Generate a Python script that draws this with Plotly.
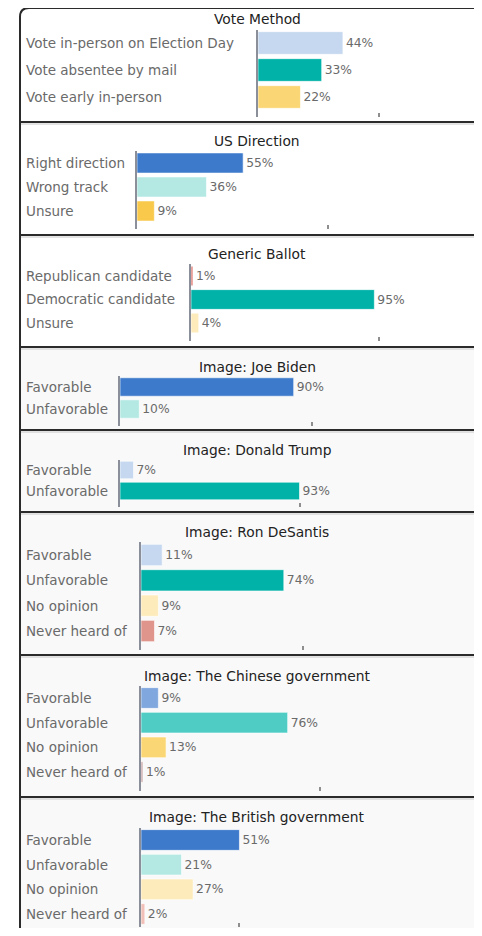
import plotly.graph_objects as go

W, H = 482, 936
OFF = 8  # page body margin the browser adds around the plot
FIG_W, FIG_H = W - 2 * OFF, H - 2 * OFF  # keep the page free of scrollbars

# ---- data ----
vote_method_labels = ["Vote in-person on Election Day", "Vote absentee by mail", "Vote early in-person"]
vote_method_values = [44, 33, 22]

us_direction_labels = ["Right direction", "Wrong track", "Unsure"]
us_direction_values = [55, 36, 9]

generic_ballot_labels = ["Republican candidate", "Democratic candidate", "Unsure"]
generic_ballot_values = [1, 95, 4]

image_labels_2 = ["Favorable", "Unfavorable"]
biden_values = [90, 10]
trump_values = [7, 93]

image_labels_4 = ["Favorable", "Unfavorable", "No opinion", "Never heard of"]
desantis_values = [11, 74, 9, 7]
chinese_gov_values = [9, 76, 13, 1]
british_gov_values = [51, 21, 27, 2]

titles = ["Vote Method", "US Direction", "Generic Ballot", "Image: Joe Biden",
          "Image: Donald Trump", "Image: Ron DeSantis",
          "Image: The Chinese government", "Image: The British government"]

# lone tick mark seen under each panel (in % units)
tick_marks = [62.7, 99, 97.4, 99.5, 93.3, 84, 92.7, 50.8]

# ---- colours ----
BLUE, LBLUE, MBLUE = "#3d7acb", "#c6d8ef", "#80a7de"
TEAL, LTEAL, MTEAL = "#00b2a7", "#b4e9e3", "#4fcdc5"
YEL, LYEL, PYEL = "#fad675", "#f8c94b", "#fdebbb"
SALM = "#df958b"

panels = [
    (vote_method_labels, vote_method_values, [LBLUE, TEAL, YEL]),
    (us_direction_labels, us_direction_values, [BLUE, LTEAL, LYEL]),
    (generic_ballot_labels, generic_ballot_values, ["#e07a70", TEAL, PYEL]),
    (image_labels_2, biden_values, [BLUE, LTEAL]),
    (image_labels_2, trump_values, [LBLUE, TEAL]),
    (image_labels_4, desantis_values, [LBLUE, TEAL, PYEL, SALM]),
    (image_labels_4, chinese_gov_values, [MBLUE, MTEAL, YEL, "#c9a6a6"]),
    (image_labels_4, british_gov_values, [BLUE, LTEAL, PYEL, "#f0c0b8"]),
]

# ---- panel geometry in pixels: top, bottom, title y, axis x, first bar y, last bar y ----
geom = [
    (8, 122, 19, 258, 43, 97),
    (122, 235, 141, 137, 163, 211),
    (235, 347, 254, 191, 276, 323),
    (347, 430, 367, 120, 387, 409),
    (430, 512, 450, 120, 470, 491),
    (512, 655, 532, 141, 555, 631),
    (655, 797, 676, 141, 698, 772),
    (797, 980, 817, 141, 840, 914),
]
PX_PER_PCT = 1.93
XMAX = 105

LABEL_FONT = dict(family="DejaVu Sans", size=13.5, color="#6a6a6a")
VALUE_FONT = dict(family="DejaVu Sans", size=12.3, color="#6a6a6a")
TITLE_FONT = dict(family="DejaVu Sans", size=13.8, color="#222222")


def px(x):
    return (x - OFF) / FIG_W


def py(y):
    return 1 - (y - OFF) / FIG_H


fig = go.Figure()
layout = dict(
    width=FIG_W, height=FIG_H, margin=dict(l=0, r=0, t=0, b=0),
    paper_bgcolor="white", plot_bgcolor="rgba(0,0,0,0)",
    showlegend=False, font=LABEL_FONT,
)
annotations = []
shapes = []

for i, ((labels, values, colors), (top, bot, ty, ax, c0, c1)) in enumerate(zip(panels, geom), start=1):
    n = len(labels)
    s = (c1 - c0) / (n - 1)
    ytop, ybot = c0 - 0.5 * s, min(c1 + 0.75 * s, OFF + FIG_H - 1)
    xa, ya = f"x{i}", f"y{i}"
    yrange_bottom = (ybot - c0) / s  # category units below the first bar

    # panel background + separator
    bg = "white" if i <= 3 else "#f9f9f9"
    shapes.append(dict(type="rect", xref="paper", yref="paper", layer="below",
                       x0=px(21), x1=1.05, y0=py(bot), y1=py(top),
                       fillcolor=bg, line_width=0))
    if i > 1:
        shapes.append(dict(type="line", xref="paper", yref="paper",
                           x0=px(20), x1=1.05, y0=py(top), y1=py(top),
                           line=dict(color="#2b2b2b", width=2)))
        shapes.append(dict(type="line", xref="paper", yref="paper",
                           x0=px(21), x1=1.05, y0=py(top + 2), y1=py(top + 2),
                           line=dict(color="#c8c8c8", width=1)))

    fig.add_trace(go.Bar(
        x=values, y=labels, orientation="h", xaxis=xa, yaxis=ya,
        marker=dict(color=colors, line=dict(color="rgba(255,255,255,0.6)", width=1)),
        width=0.84, text=[f"{v}%" for v in values], textposition="outside",
        textfont=VALUE_FONT, cliponaxis=False, hoverinfo="skip",
    ))

    layout[f"xaxis{i}"] = dict(
        domain=[px(ax), min(1, px(ax + XMAX * PX_PER_PCT))], range=[0, XMAX], anchor=ya,
        showgrid=False, zeroline=False, showline=False, showticklabels=False,
        tickvals=[tick_marks[i - 1]], ticks="inside", ticklen=4, tickwidth=1.5,
        tickcolor="#8f8f8f", fixedrange=True,
    )
    layout[f"yaxis{i}"] = dict(
        domain=[py(ybot), py(ytop)], type="category", range=[yrange_bottom, -0.5],
        anchor=xa, showgrid=False, zeroline=False, showline=True, linecolor="#8a8f99",
        linewidth=2, showticklabels=False, ticks="", fixedrange=True,
    )

    annotations.append(dict(
        text=titles[i - 1], xref="paper", yref="paper", x=px(257), y=py(ty),
        xanchor="center", yanchor="middle", showarrow=False, font=TITLE_FONT,
    ))
    for lab in labels:
        annotations.append(dict(
            text=lab, xref="paper", yref=ya, x=px(24), y=lab,
            xanchor="left", yanchor="middle", showarrow=False, font=LABEL_FONT,
        ))

# outer frame with rounded top-left corner
r = 9
frame = (f"M {px(20)},{py(H + 20)} L {px(20)},{py(8 + r)} "
         f"Q {px(20)},{py(8)} {px(20 + r)},{py(8)} L {px(500)},{py(8)}")
shapes.append(dict(type="path", xref="paper", yref="paper", path=frame,
                   line=dict(color="#2b2b2b", width=2)))

layout["annotations"] = annotations
layout["shapes"] = shapes
fig.update_layout(**layout)

fig.write_html("out.html")
